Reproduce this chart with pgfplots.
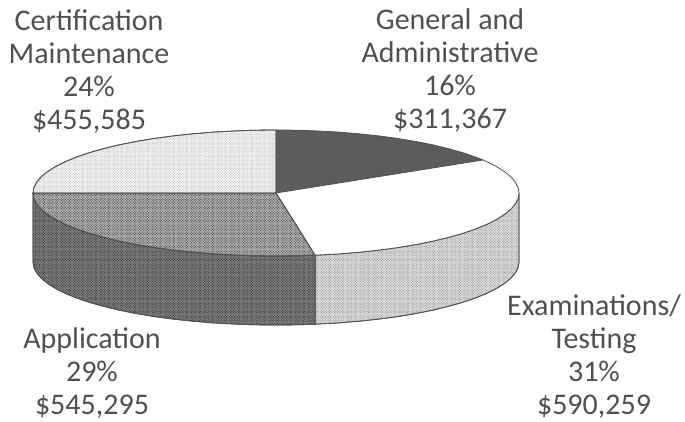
\documentclass[border=0pt]{standalone}
\usepackage{pgfplots}
\usepackage{fontspec}
\setmainfont{Carlito}
\pgfplotsset{compat=1.18}
\usetikzlibrary{patterns}
\definecolor{txt}{HTML}{505050}
\definecolor{edge}{HTML}{505050}
\pgfdeclarepatternformonly{halft}{\pgfqpoint{-0.5pt}{-0.5pt}}{\pgfqpoint{3pt}{3pt}}{\pgfqpoint{2.6pt}{2.6pt}}{%
  \pgfpathrectangle{\pgfqpoint{0pt}{0pt}}{\pgfqpoint{0.9pt}{0.9pt}}%
  \pgfpathrectangle{\pgfqpoint{1.3pt}{1.3pt}}{\pgfqpoint{0.9pt}{0.9pt}}%
  \pgfusepath{fill}}
\begin{document}
\begin{tikzpicture}
\useasboundingbox (0,0) rectangle (685pt,421pt);
\begin{axis}[at={(0,0)},anchor=south west,scale only axis,width=685pt,height=421pt,
  xmin=0,xmax=685,ymin=0,ymax=421,y dir=reverse,hide axis,clip=false]
% Examinations side
\addplot[draw=edge,line width=0.8pt,fill=black!13,postaction={pattern=halft,pattern color=black!40}] coordinates {
(315,255.2)(318.2,255)(338.9,253.9)(359.1,252.2)(378.7,250.1)(397.5,247.6)(415.4,244.6)(432.2,241.3)(447.8,237.5)(462.1,233.5)(475.1,229.1)(486.4,224.5)(496.2,219.6)(504.3,214.5)(510.7,209.3)(515.3,203.9)(518.1,198.5)(519,193)
(519,262)(518.1,267.5)(515.3,272.9)(510.7,278.3)(504.3,283.5)(496.2,288.6)(486.4,293.5)(475.1,298.1)(462.1,302.5)(447.8,306.5)(432.2,310.3)(415.4,313.6)(397.5,316.6)(378.7,319.1)(359.1,321.2)(338.9,322.9)(318.2,324)(315,324.2)} -- cycle;
% Application side
\addplot[draw=edge,line width=0.8pt,fill=black!50,postaction={pattern=halft,pattern color=black!78}] coordinates {
(33,193)(33.9,198.5)(36.7,203.9)(41.3,209.3)(47.7,214.5)(55.8,219.6)(65.6,224.5)(76.9,229.1)(89.9,233.5)(104.2,237.5)(119.8,241.3)(136.6,244.6)(154.5,247.6)(173.3,250.1)(192.9,252.2)(213.1,253.9)(233.8,255)(254.8,255.8)(276,256)(297.2,255.8)(315,255.2)
(315,324.2)(297.2,324.8)(276,325)(254.8,324.8)(233.8,324)(213.1,322.9)(192.9,321.2)(173.3,319.1)(154.5,316.6)(136.6,313.6)(119.8,310.3)(104.2,306.5)(89.9,302.5)(76.9,298.1)(65.6,293.5)(55.8,288.6)(47.7,283.5)(41.3,278.3)(36.7,272.9)(33.9,267.5)(33,262)} -- cycle;
% General and Administrative top
\addplot[draw=edge,line width=0.8pt,fill=black!64] coordinates {
(276,193)(276,130)(297.2,130.2)(318.2,131)(338.9,132.1)(359.1,133.8)(378.7,135.9)(397.5,138.4)(415.4,141.4)(432.2,144.7)(447.8,148.5)(462.1,152.5)(475.1,156.9)(483,160)} -- cycle;
% Examinations top
\addplot[draw=edge,line width=0.8pt,fill=white] coordinates {
(276,193)(483,160)(486.4,161.5)(496.2,166.4)(504.3,171.5)(510.7,176.7)(515.3,182.1)(518.1,187.5)(519,193)(518.1,198.5)(515.3,203.9)(510.7,209.3)(504.3,214.5)(496.2,219.6)(486.4,224.5)(475.1,229.1)(462.1,233.5)(447.8,237.5)(432.2,241.3)(415.4,244.6)(397.5,247.6)(378.7,250.1)(359.1,252.2)(338.9,253.9)(318.2,255)(315,255.2)} -- cycle;
% Application top
\addplot[draw=edge,line width=0.8pt,fill=black!30,postaction={pattern=halft,pattern color=black!70}] coordinates {
(276,193)(315,255.2)(297.2,255.8)(276,256)(254.8,255.8)(233.8,255)(213.1,253.9)(192.9,252.2)(173.3,250.1)(154.5,247.6)(136.6,244.6)(119.8,241.3)(104.2,237.5)(89.9,233.5)(76.9,229.1)(65.6,224.5)(55.8,219.6)(47.7,214.5)(41.3,209.3)(36.7,203.9)(33.9,198.5)(33,193)} -- cycle;
% Certification top
\addplot[draw=edge,line width=0.8pt,fill=black!4,postaction={pattern=halft,pattern color=black!24}] coordinates {
(276,193)(33,193)(33.9,187.5)(36.7,182.1)(41.3,176.7)(47.7,171.5)(55.8,166.4)(65.6,161.5)(76.9,156.9)(89.9,152.5)(104.2,148.5)(119.8,144.7)(136.6,141.4)(154.5,138.4)(173.3,135.9)(192.9,133.8)(213.1,132.1)(233.8,131)(254.8,130.2)(276,130)} -- cycle;
\tikzset{lab/.style={font=\fontsize{30}{33}\selectfont,text=txt,align=center,inner sep=0pt}}
\node[lab] at (axis cs:89,72) {Certification\\Maintenance\\24\%\\\$455,585};
\node[lab] at (axis cs:450,70) {General and\\Administrative\\16\%\\\$311,367};
\node[lab] at (axis cs:92,373) {Application\\29\%\\\$545,295};
\node[lab] at (axis cs:594,356) {Examinations/\\Testing\\31\%\\\$590,259};
\end{axis}
\end{tikzpicture}
\end{document}
